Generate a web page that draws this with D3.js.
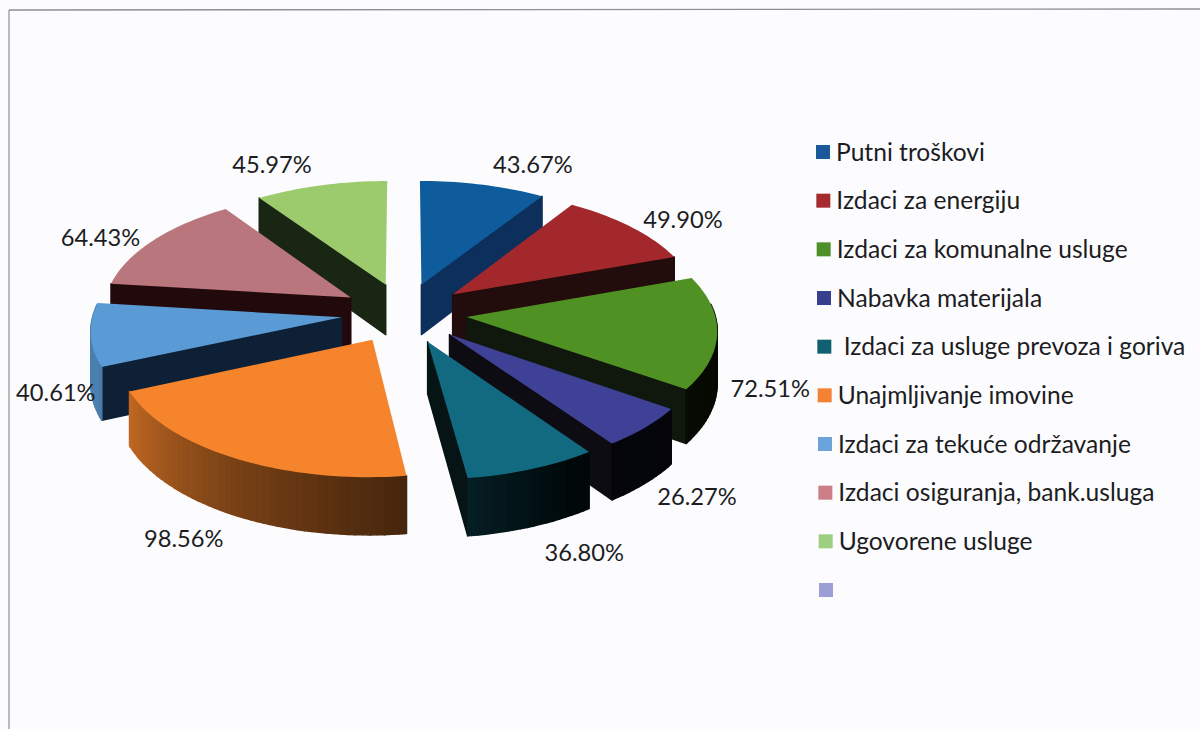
<!DOCTYPE html>
<html>
<head>
<meta charset="utf-8">
<script src="https://cdn.jsdelivr.net/npm/d3@7"></script>
<style>
    html, body { margin: 0; padding: 0; background: #fcfcfe; overflow: hidden; }
    svg { display: block; font-family: Lato, "Open Sans", sans-serif; }
    text { fill: #1d1d1f; white-space: pre; }
</style>
</head>
<body>
<div id="chart"></div>
<script>
const categories = [
    "Putni troškovi",
    "Izdaci za energiju",
    "Izdaci za komunalne usluge",
    "Nabavka materijala",
    " Izdaci za usluge prevoza i goriva",
    "Unajmljivanje imovine",
    "Izdaci za tekuće održavanje",
    "Izdaci osiguranja, bank.usluga",
    "Ugovorene usluge",
    ""
];
const percentages = [43.67, 49.90, 72.51, 26.27, 36.80, 98.56, 40.61, 64.43, 45.97];

const topColors = ["#0f5c9c", "#a3282c", "#4f9122", "#3f4197", "#126a80", "#f5842c", "#5b9bd5", "#b9767c", "#9ccb6e", "#9c9fd6"];
const wallColors = ["#0d2f5c", "#220c0c", "#10170c", "#0c0c12", "#071416", "#3a1a0a", "#0e2036", "#220a0c", "#1a2614"];
const legendColors = ["#1a5a9a", "#a52a2e", "#4f8f2a", "#36408f", "#0f6070", "#f58233", "#6ba3db", "#cc7f87", "#9ccf7f", "#9c9fd6"];
// label shift from the outer middle of each slice
const labelShift = [[50, -21], [52, -8], [53, 55], [52, 68], [52, 83], [-50, 80], [-35, 57], [-53, -3], [-49, -21]];

const width = 1200;
const height = 729;

const cx = 404;
const cy = 313;
const radius = 248;
const explode = 63;
const depth = 51;
const tilt = 0.479;
const persp = 0.000384;

const svg = d3
    .select('#chart')
    .append('svg')
    .attr('width', width)
    .attr('height', height)
    .attr('viewBox', `0 0 ${width} ${height}`);

svg.append('rect').attr('width', width).attr('height', height).attr('fill', '#fcfcfe');

const frame = svg.append('g').attr('stroke', '#8f8f8f').attr('fill', 'none');
frame.append('line').attr('x1', 9).attr('y1', 10).attr('x2', width).attr('y2', 9).attr('stroke-width', 1.4);
frame.append('line').attr('x1', 9).attr('y1', 10).attr('x2', 9).attr('y2', height).attr('stroke-width', 1.2);

const arcs = d3.pie().sort(null).value(d => d)(percentages).map((d, i) => ({ ...d, i }));

// plane point (x to the right, w to the back) onto the screen
function project(x, w, drop = 0) {
    const k = 1 / (1 + persp * w);
    return [cx + x * k, cy - tilt * w * k + drop * k];
}

function slicePoint(d, angle, r, drop = 0) {
    const mid = (d.startAngle + d.endAngle) / 2;
    const x = explode * Math.sin(mid) + r * Math.sin(angle);
    const w = explode * Math.cos(mid) + r * Math.cos(angle);
    return project(x, w, drop);
}

function planeW(d, angle, r) {
    const mid = (d.startAngle + d.endAngle) / 2;
    return explode * Math.cos(mid) + r * Math.cos(angle);
}

function labelPoint(d) {
    const mid = (d.startAngle + d.endAngle) / 2;
    const r = radius + explode;
    const p = project(r * Math.sin(mid), r * Math.cos(mid));
    return [p[0] + labelShift[d.i][0], p[1] + labelShift[d.i][1]];
}

const line = d3.line().curve(d3.curveLinearClosed);

// how much light the rim gets by its direction, in degrees
const rimLight = d3.scaleLinear().domain([0, 150, 172, 210, 250, 360]).range([0.05, 0.08, 0.28, 0.5, 0.82, 0.82]).clamp(true);

const slices = svg
    .append('g')
    .attr('class', 'slices')
    .selectAll('g')
    .data(arcs.slice().sort((a, b) =>
        Math.cos((b.startAngle + b.endAngle) / 2) - Math.cos((a.startAngle + a.endAngle) / 2)))
    .join('g');

slices.each(function (d) {
    const g = d3.select(this);
    const angles = d3.range(d.startAngle, d.endAngle, Math.PI / 120).concat(d.endAngle);
    const faces = [];

    // only the walls turned to the viewer
    if (Math.sin(d.startAngle) < 0) {
        faces.push({ w: planeW(d, d.startAngle, radius / 2), fill: wallColors[d.i], angle: d.startAngle });
    }
    if (Math.sin(d.endAngle) > 0) {
        faces.push({ w: planeW(d, d.endAngle, radius / 2), fill: wallColors[d.i], angle: d.endAngle });
    }
    faces.forEach(f => {
        f.points = [slicePoint(d, f.angle, 0), slicePoint(d, f.angle, radius), slicePoint(d, f.angle, radius, depth), slicePoint(d, f.angle, 0, depth)];
    });

    d3.pairs(angles).forEach(([a0, a1]) => {
        if (Math.cos((a0 + a1) / 2) > 0.1) return;
        const light = rimLight((a0 + a1) * 90 / Math.PI);
        faces.push({
            w: planeW(d, (a0 + a1) / 2, radius),
            fill: d3.interpolateRgb('#000000', topColors[d.i])(light),
            points: [slicePoint(d, a0, radius), slicePoint(d, a1, radius), slicePoint(d, a1, radius, depth), slicePoint(d, a0, radius, depth)]
        });
    });

    faces.sort((a, b) => b.w - a.w);

    g.selectAll('path.side')
        .data(faces)
        .join('path')
        .attr('class', 'side')
        .attr('d', f => line(f.points))
        .attr('fill', f => f.fill)
        .attr('stroke', f => f.fill)
        .attr('stroke-width', 1.5)
        .attr('stroke-linejoin', 'round');

    const top = [slicePoint(d, d.startAngle, 0)].concat(angles.map(a => slicePoint(d, a, radius)));

    g.append('path')
        .attr('class', 'top')
        .attr('d', line(top))
        .attr('fill', topColors[d.i]);
});

const fmt = d3.format('.2f');

svg.append('g')
    .attr('class', 'labels')
    .selectAll('text')
    .data(arcs)
    .join('text')
    .attr('x', d => labelPoint(d)[0])
    .attr('y', d => labelPoint(d)[1])
    .attr('text-anchor', 'middle')
    .attr('dominant-baseline', 'central')
    .attr('font-size', 23.7)
    .text(d => `${fmt(d.data)}%`);

const legendY = d3.scaleLinear().domain([0, categories.length - 1]).range([152, 590]);
const legendX = d3.scaleLinear().domain([0, categories.length - 1]).range([816, 819]);

const legend = svg
    .append('g')
    .attr('class', 'legend')
    .selectAll('g')
    .data(categories)
    .join('g')
    .attr('transform', (d, i) => `translate(${legendX(i)},${legendY(i)})`);

legend.append('rect')
    .attr('x', 0)
    .attr('y', -7)
    .attr('width', 14)
    .attr('height', 14)
    .attr('fill', (d, i) => legendColors[i]);

legend.append('text')
    .attr('x', 20)
    .attr('y', -1)
    .attr('dominant-baseline', 'central')
    .attr('font-size', 24.6)
    .text(d => d);
</script>
</body>
</html>
